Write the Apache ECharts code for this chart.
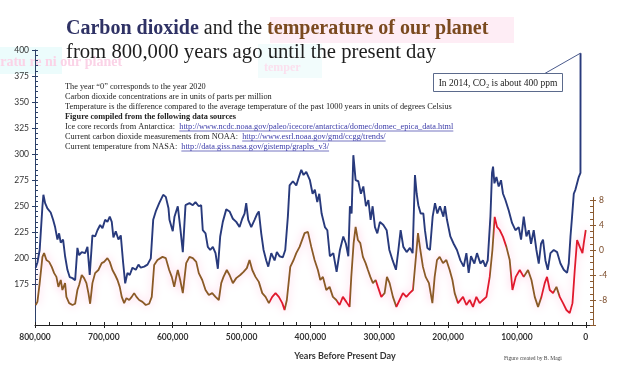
<!DOCTYPE html>
<html><head><meta charset="utf-8">
<script src="https://cdn.jsdelivr.net/npm/echarts@6/dist/echarts.min.js"></script>
<style>html,body{margin:0;padding:0;background:#fff}#c{width:630px;height:372px}</style>
</head><body><div id="c"></div>
<script>
// ---------- DATA (years before present) ----------
const co2Years = [
799000,796500,793200,789200,787800,785300,782000,777200,773700,770800,
767400,765000,762600,759200,756300,752900,749600,745600,741700,738400,
735900,732100,727200,723800,720500,716600,712700,709300,705400,702000,
698100,694800,691400,688500,686100,682700,678800,675400,672000,669000,
665700,662400,658400,653600,649700,646400,641400,636600,631800,628300,
624600,619600,613800,610000,606100,604700,599900,597400,592600,589100,
585300,581400,575600,570800,566900,562100,558600,556300,552300,549000,
545500,541700,537800,534400,531000,527200,522200,517400,512600,507700,
502900,499000,495600,493200,490300,485900,481100,477800,474900,471400,
468000,464100,461200,456800,452000,448700,444800,440000,436500,432700,
430200,425400,420500,416700,413200,409900,406000,400700,396800,393500,
390000,387100,383700,378900,375400,371700,366700,361900,357100,352200,
348400,344900,342600,340100,337600,334300,330400,326600,323100,319300,
315800,312500,309600,306200,302800,299000,294000,289200,285300,280500,
275700,272200,268900,265000,260200,255400,251500,248100,245600,243200,
239800,235900,233600,230100,226300,222400,219000,215600,211800,206800,
204500,201600,196700,191900,187100,182100,177300,173400,170100,166700,
161800,158000,153100,149300,145800,142400,138500,136200,134700,132700,
129800,126500,123100,120200,116700,111900,107100,102200,97400,94000,
90100,86200,82800,79500,75600,71700,68300,65000,62100,58600,
55200,51300,46500,41700,36800,32000,27200,24700,22200,19900,
17400,15000,12600,10200,7700,7600];
const co2Values = [
191,196,208,250,261,253,248,244,237,230,
218,224,215,218,202,189,182,181,179,210,
203,206,205,211,184,222,221,227,232,229,
237,235,240,235,220,226,218,222,196,176,
186,184,191,189,194,191,192,194,200,237,
245,253,261,259,248,237,226,240,250,230,
206,251,253,251,254,250,251,227,224,211,
208,211,205,190,221,235,247,245,238,235,
230,238,243,253,237,230,237,242,245,224,
208,198,192,205,198,206,202,201,208,240,
270,274,270,278,285,280,283,275,262,266,
254,262,243,230,227,202,205,187,208,221,
214,202,250,243,299,275,274,262,269,250,
256,237,250,230,224,235,232,227,208,198,
189,208,227,211,206,210,205,280,262,251,
243,243,227,210,208,240,253,243,250,240,
250,237,221,214,208,198,192,205,186,202,
195,205,195,198,192,198,240,282,288,272,
278,269,275,262,256,246,234,227,230,218,
240,221,227,214,227,208,195,214,218,198,
189,205,208,206,195,189,186,195,221,240,
262,266,272,278,282,397];

const tempYears = [
799000,796500,793200,789200,786800,783400,779500,775700,772200,768900,
766000,762600,760200,756300,754400,750400,745600,741700,738400,735900,
732100,728700,725300,722400,719900,716600,712700,707900,703100,699600,
694800,691400,687500,683600,680200,676900,674000,670500,667200,663200,
659500,656000,652600,648700,643900,639100,634200,630400,626900,622100,
614800,610000,605100,601300,597800,594900,592600,589100,585300,580400,
575600,570800,565800,562100,557100,552300,547500,542600,537800,533000,
529500,526200,521400,517400,512600,507700,501900,497100,492300,488400,
484400,479700,474900,469900,465100,460300,455400,450600,445800,440800,
437500,434200,429200,424400,420500,415700,408400,403600,398700,393900,
389100,385600,381800,376900,372100,367300,362400,357600,352800,347800,
343000,340600,337200,334300,331000,327500,323700,319800,316400,312900,
309200,305200,301900,297000,292200,288800,284900,280100,275100,270400,
265600,260600,255800,251000,247100,243700,240300,236500,232600,227800,
222800,219500,216100,212200,207400,202500,197700,193700,190400,185600,
178300,173400,168600,163800,158900,154100,149300,144300,139500,135600,
132300,128900,125000,120200,115300,110500,106500,101700,95900,90100,
83900,78900,74100,69300,64400,59600,56300,52300,47500,42600,
37800,33000,28100,23300,19300,16000,12600,8700,4800,2900,
0];
const tempValues = [
-8.8,-8.3,-5.3,-1.1,-0.5,-1.6,-1.9,-2.7,-3.7,-4.3,
-5.9,-4.8,-6.4,-5.3,-7.5,-8.5,-8.8,-8.6,-6.4,-5.6,
-4.0,-4.5,-5.3,-6.9,-8.6,-5.3,-3.7,-3.2,-2.1,-1.9,
-1.3,-1.9,-3.2,-4.0,-4.8,-5.9,-7.5,-8.5,-7.7,-8.0,
-7.5,-6.9,-7.5,-8.0,-8.3,-8.8,-8.6,-7.5,-2.4,-1.6,
-1.1,-1.3,-3.2,-4.3,-5.9,-4.3,-3.2,-4.8,-6.9,-2.1,
-1.1,-1.3,-1.9,-3.7,-4.8,-6.4,-7.2,-6.9,-7.5,-8.0,
-5.3,-4.3,-3.2,-4.0,-5.3,-4.5,-4.0,-3.5,-2.9,-1.6,
-3.2,-4.3,-5.1,-6.9,-7.5,-8.5,-7.5,-6.9,-7.5,-8.5,
-9.6,-8.0,-2.7,-1.6,-0.5,0.5,2.7,2.9,0.5,-1.6,
-3.2,-4.8,-4.3,-6.4,-5.9,-7.5,-8.0,-8.8,-7.5,-8.3,
-9.1,-4.3,1.1,3.7,1.6,1.1,-1.1,-2.1,-3.2,-4.3,
-5.3,-4.8,-5.9,-7.5,-6.9,-4.3,-5.3,-7.5,-9.1,-8.0,
-6.9,-7.5,-6.9,-6.4,-1.6,2.7,0,-2.7,-4.3,-5.3,
-8.5,-4.3,-1.6,-1.1,-2.1,-1.6,-3.2,-4.8,-6.9,-8.5,
-7.5,-8.8,-8.0,-9.1,-7.5,-8.5,-8.0,-7.5,-4.3,0,
5.3,3.7,3.2,2.1,0.5,-1.6,-6.4,-4.3,-3.2,-4.3,
-3.2,-4.8,-7.5,-9.1,-7.5,-5.3,-4.3,-6.4,-6.9,-5.9,
-7.5,-8.5,-9.6,-10.1,-8.5,-3.2,1.6,0.5,-0.5,1.1,
3.2];

// periods where the temperature trace is drawn red (years before present)
const redRanges = [[437000,459000],[343000,362000],[295000,304000],[251000,275000],
  [139000,187000],[116000,134000],[90000,109000],[46000,65000],[0,39000]];

// tick labels
const xTickLabels = [800000,700000,600000,500000,400000,300000,200000,100000,0];
const xMinorTicks = [];
for (let v = 0; v <= 800000; v += 20000) xMinorTicks.push(v);
const co2TickLabels = [175,200,225,250,275,300,325,350,375,400];
const co2MinorTicks = [];
for (let v = 175; v <= 400; v += 5) co2MinorTicks.push(v);
const tempTickLabels = [-8,-4,0,4,8];
const tempMajorTicks = [-12,-8,-4,0,4,8];
const tempMinorTicks = [];
for (let v = -12; v <= 8; v++) tempMinorTicks.push(v);

// texts
const titleLine1 = ['Carbon dioxide', ' and the ', 'temperature of our planet'];
const titleLine2 = 'from 800,000 years ago until the present day';
const noteLines = [
  ['The year \u201C0\u201D corresponds to the year 2020', ''],
  ['Carbon dioxide concentrations are in units of parts per million', ''],
  ['Temperature is the difference compared to the average temperature of the past 1000 years in units of degrees Celsius', ''],
  ['Figure compiled from the following data sources', ''],
  ['Ice core records from Antarctica:  ', 'http://www.ncdc.noaa.gov/paleo/icecore/antarctica/domec/domec_epica_data.html'],
  ['Current carbon dioxide measurements from NOAA:  ', 'http://www.esrl.noaa.gov/gmd/ccgg/trends/'],
  ['Current temperature from NASA:  ', 'http://data.giss.nasa.gov/gistemp/graphs_v3/']
];
const calloutText = 'In 2014, CO\u2082 is about 400 ppm';
const xAxisTitle = 'Years Before Present Day';
const creditText = 'Figure created by B. Magi';

// ---------- CHART ----------
const X_MIN = -10500, X_MAX = 800000;
const chart = echarts.init(document.getElementById('c'), null, {renderer:'canvas', width:630, height:372});
const mctx = document.createElement('canvas').getContext('2d');
function tw(t, f){ mctx.font = f; return mctx.measureText(t).width; }

const SERIF = '"Liberation Serif", "Times New Roman", serif';
const graphics = [];
// faint ghost artifacts of the source image
graphics.push({type:'rect', shape:{x:0,y:47,width:62,height:27}, style:{fill:'#ecfcfc'}, z:-10, silent:true});
graphics.push({type:'text', x:-6, y:62, style:{text:'eratu re ni our planet', font:'bold 14px '+SERIF, fill:'#fbd3e7', verticalAlign:'middle'}, z:-9, silent:true});
graphics.push({type:'rect', shape:{x:258,y:44,width:64,height:34}, style:{fill:'#f2fcfc'}, z:-10, silent:true});
graphics.push({type:'text', x:264, y:68, style:{text:'temper', font:'bold 12px '+SERIF, fill:'#fbe0ee', verticalAlign:'middle'}, z:-9, silent:true});

// title
graphics.push({type:'rect', shape:{x:270,y:17,width:244,height:26}, style:{fill:'#feedf5'}, z:-8, silent:true});
graphics.push({type:'text', x:66, y:29, style:{
  text:'{a|'+titleLine1[0]+'}{b|'+titleLine1[1]+'}{c|'+titleLine1[2]+'}',
  verticalAlign:'middle',
  rich:{
    a:{fontFamily:SERIF, fontSize:20, fontWeight:'bold', fill:'#2f3265'},
    b:{fontFamily:SERIF, fontSize:20, fill:'#1e1e1e'},
    c:{fontFamily:SERIF, fontSize:20, fontWeight:'bold', fill:'#7a4a1f'}
  }}});
graphics.push({type:'text', x:66, y:53, style:{text:titleLine2, font:'20.7px '+SERIF, fill:'#1e1e1e', verticalAlign:'middle'}});

// notes
const NOTE_FONT = '8.3px '+SERIF, NOTE_BOLD = 'bold 8.3px '+SERIF;
noteLines.forEach((ln, i) => {
  const y = 87 + i*10;
  const f = i === 3 ? NOTE_BOLD : NOTE_FONT;
  graphics.push({type:'text', x:65, y:y, style:{text:ln[0], font:f, fill:'#222', verticalAlign:'middle'}});
  if (ln[1]) {
    const ux = 65 + tw(ln[0], f);
    const uw = tw(ln[1], f);
    graphics.push({type:'text', x:ux, y:y, style:{text:ln[1], font:f, fill:'#3a3aa8', verticalAlign:'middle'}});
    graphics.push({type:'line', shape:{x1:ux, y1:y+4, x2:ux+uw, y2:y+4}, style:{stroke:'#3a3aa8', lineWidth:0.7}});
  }
});

// callout
graphics.push({type:'rect', shape:{x:433.5,y:73.5,width:129,height:18}, style:{fill:'#fff', stroke:'#5b6a8c', lineWidth:1}, z:20});
graphics.push({type:'text', x:498, y:83, style:{text:calloutText, font:'9.5px '+SERIF, fill:'#222', align:'center', verticalAlign:'middle'}, z:21});

// axis title & credit
graphics.push({type:'text', x:345, y:356, style:{text:xAxisTitle, font:'bold 9px Lato', fill:'#333', align:'center', verticalAlign:'middle'}});
graphics.push({type:'text', x:504, y:359, style:{text:creditText, font:'5.5px '+SERIF, fill:'#444', verticalAlign:'middle'}});

const axisCommonX = {type:'value', inverse:true, min:X_MIN, max:X_MAX, position:'bottom', splitLine:{show:false}};
const option = {
  animation:false,
  backgroundColor:'#fff',
  grid:[{left:35,right:37,top:50,bottom:47},{left:35,right:37,top:197.5,bottom:47}],
  xAxis:[
    Object.assign({gridIndex:0,
      axisLine:{show:true,onZero:false,lineStyle:{color:'#222',width:1}},
      axisTick:{show:true,customValues:xTickLabels,length:3,lineStyle:{color:'#222'}},
      axisLabel:{customValues:xTickLabels, formatter:v=>v.toLocaleString('en-US'), color:'#333', fontFamily:'Lato', fontWeight:'bold', fontSize:8.5, margin:8}
    }, axisCommonX),
    Object.assign({gridIndex:0,
      axisLine:{show:false,onZero:false},
      axisTick:{show:true,inside:true,customValues:xMinorTicks,length:3,lineStyle:{color:'#222'}},
      axisLabel:{show:false}
    }, axisCommonX),
    Object.assign({gridIndex:1, show:false, axisLine:{onZero:false}}, axisCommonX)
  ],
  yAxis:[
    {gridIndex:0,type:'value',position:'left',min:136,max:400,splitLine:{show:false},
      axisLine:{show:true,onZero:false,lineStyle:{color:'#2b4068',width:1}},
      axisTick:{show:true,customValues:co2TickLabels,length:3,lineStyle:{color:'#2b4068'}},
      axisLabel:{customValues:co2TickLabels,color:'#333',fontFamily:'Lato',fontSize:8.5,margin:6}},
    {gridIndex:0,type:'value',position:'left',min:136,max:400,splitLine:{show:false},
      axisLine:{show:false,onZero:false},
      axisTick:{show:true,inside:true,customValues:co2MinorTicks,length:3,lineStyle:{color:'#2b4068'}},
      axisLabel:{show:false}},
    {gridIndex:1,type:'value',position:'right',min:-12,max:8.4,splitLine:{show:false},
      axisLine:{show:true,onZero:false,lineStyle:{color:'#8a5a30',width:1}},
      axisTick:{show:true,customValues:tempMajorTicks,length:3,lineStyle:{color:'#8a5a30'}},
      axisLabel:{customValues:tempTickLabels,color:'#7a4a28',fontFamily:'Lato',fontSize:8.5,margin:6}},
    {gridIndex:1,type:'value',position:'right',min:-12,max:8.4,splitLine:{show:false},
      axisLine:{show:false,onZero:false},
      axisTick:{show:true,inside:true,customValues:tempMinorTicks,length:3,lineStyle:{color:'#8a5a30'}},
      axisLabel:{show:false}}
  ],
  visualMap:{show:false,type:'piecewise',seriesIndex:1,dimension:0,
    pieces:redRanges.map(r=>({min:r[0],max:r[1],color:'#e0192d'})),
    outOfRange:{color:'#8a5a26'}},
  series:[
    {name:'CO2',type:'line',xAxisIndex:0,yAxisIndex:0,showSymbol:false,symbol:'none',z:3,
      data:co2Years.map((y,i)=>[y,co2Values[i]]),
      lineStyle:{color:'#283a7c',width:1.9},
      markLine:{silent:true,symbol:['none','arrow'],symbolSize:[0,7],label:{show:false},
        lineStyle:{color:'#4a5a8c',width:1,type:'solid'},
        data:[[{coord:[59600,377.4]},{coord:[co2Years[co2Years.length-1],co2Values[co2Values.length-1]]}]]}},
    {name:'Temperature',type:'line',xAxisIndex:2,yAxisIndex:2,showSymbol:false,symbol:'none',z:2,
      data:tempYears.map((y,i)=>[y,tempValues[i]]),
      lineStyle:{width:1.8,shadowColor:'rgba(255,60,150,0.35)',shadowBlur:8}}
  ],
  graphic:graphics
};
chart.setOption(option);
</script>
</body></html>
